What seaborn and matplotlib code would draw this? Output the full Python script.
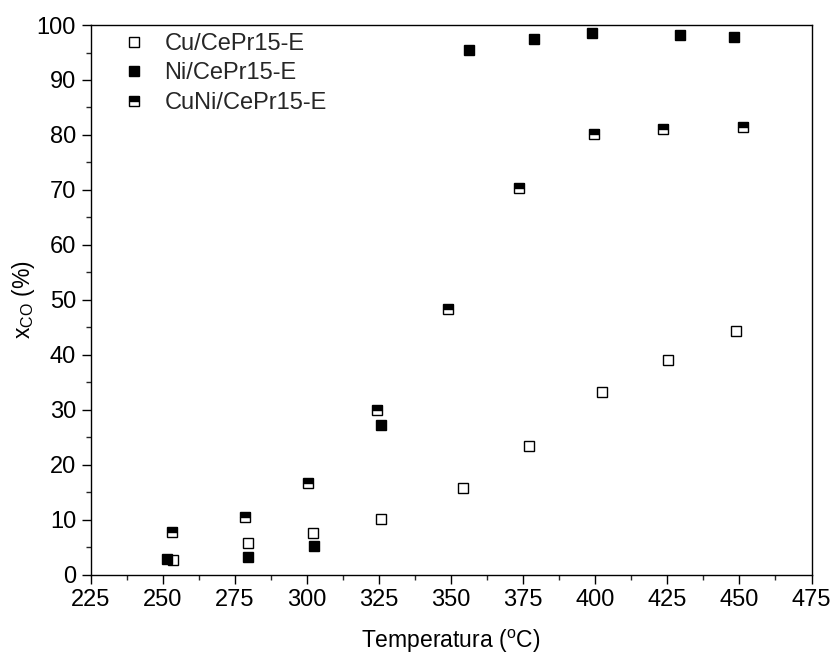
import numpy as np
import pandas as pd
import matplotlib
matplotlib.use("Agg")
import matplotlib.pyplot as plt
import seaborn as sns
from matplotlib.ticker import MultipleLocator

# values
temp_cu = [253.4, 279.5, 302.0, 325.7, 354.1, 376.9, 402.4, 425.2, 448.9]
conv_cu = [2.7, 5.8, 7.6, 10.1, 15.8, 23.4, 33.3, 39.1, 44.4]

temp_ni = [251.6, 279.6, 302.4, 325.7, 356.1, 378.6, 398.9, 429.4, 448.0]
conv_ni = [2.8, 3.2, 5.3, 27.2, 95.4, 97.4, 98.5, 98.1, 97.9]

temp_cuni = [253.2, 278.5, 300.2, 324.2, 348.9, 373.6, 399.6, 423.5, 451.1]
conv_cuni = [7.8, 10.5, 16.6, 29.9, 48.3, 70.3, 80.2, 81.0, 81.4]

labels = ["Cu/CePr15-E", "Ni/CePr15-E", "CuNi/CePr15-E"]

sns.set_theme(style="ticks")
plt.rcParams["font.family"] = ["Liberation Sans", "DejaVu Sans"]
plt.rcParams["mathtext.fontset"] = "custom"
plt.rcParams["mathtext.rm"] = "Liberation Sans"

fig = plt.figure(figsize=(8.35, 6.55), dpi=100)
ax = fig.add_axes([0.1086, 0.1226, 0.8633, 0.8392])

common = dict(linestyle="", marker="s", markersize=7.5, markeredgecolor="black",
              markeredgewidth=1.0, ax=ax)

df_cu = pd.DataFrame({"T": temp_cu, "X": conv_cu})
df_ni = pd.DataFrame({"T": temp_ni, "X": conv_ni})
df_cuni = pd.DataFrame({"T": temp_cuni, "X": conv_cuni})

sns.lineplot(data=df_cu, x="T", y="X", color="black", markerfacecolor="white",
             label=labels[0], legend=False, **common)
sns.lineplot(data=df_ni, x="T", y="X", color="black", markerfacecolor="black",
             label=labels[1], legend=False, **common)
sns.lineplot(data=df_cuni, x="T", y="X", color="black", markerfacecolor="black",
             fillstyle="top", markerfacecoloralt="white",
             label=labels[2], legend=False, **common)

ax.set_xlim(225, 475)
ax.set_ylim(0, 100)
ax.xaxis.set_major_locator(MultipleLocator(25))
ax.xaxis.set_minor_locator(MultipleLocator(12.5))
ax.yaxis.set_major_locator(MultipleLocator(10))
ax.yaxis.set_minor_locator(MultipleLocator(5))

ax.tick_params(which="major", direction="out", length=6.5, width=1.0,
               labelsize=17, colors="black", pad=4)
ax.tick_params(which="minor", direction="out", length=3.5, width=1.0)
for s in ax.spines.values():
    s.set_visible(True)
    s.set_linewidth(1.0)
    s.set_color("black")

ax.set_xlabel("Temperatura ($^{\\mathregular{o}}$C)", fontsize=16.5, color="black",
              labelpad=12)
ax.set_ylabel("x$_{\\mathregular{CO}}$ (%)", fontsize=16.5, color="black",
              labelpad=0)

ax.legend(loc="upper left", frameon=False, fontsize=17, handlelength=1.0,
          handletextpad=0.8, labelspacing=0.32, borderaxespad=0.0,
          bbox_to_anchor=(0.03, 1.003))

fig.savefig("out.png", dpi=100)
